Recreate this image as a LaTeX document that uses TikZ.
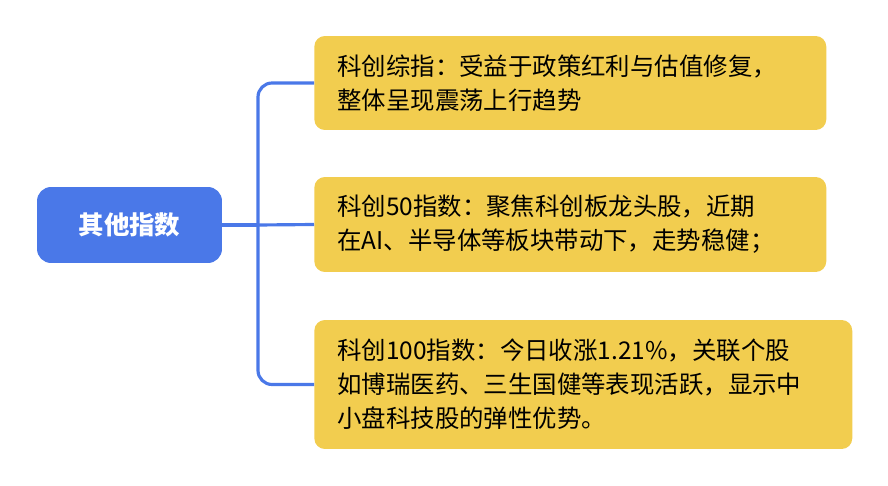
\documentclass[tikz,border=0pt]{standalone}
\usepackage{fontspec}
\setmainfont{Noto Sans CJK SC}
\usetikzlibrary{positioning}
\definecolor{rootblue}{HTML}{4A78E8}
\definecolor{leafyellow}{HTML}{F2CD4F}
\tikzset{
  rootbox/.style={fill=rootblue, rounded corners=8pt, text=white, font=\fontsize{14.5}{17}\selectfont\bfseries, minimum width=3.7cm, minimum height=1.52cm},
  leafbox/.style={fill=leafyellow, rounded corners=6pt, anchor=west, align=left, inner xsep=0.46cm, font=\fontsize{13.9}{19.3}\selectfont},
  branch/.style={draw=rootblue, line width=1.8pt, rounded corners=8pt}
}
\begin{document}
\begin{tikzpicture}[x=0.02cm, y=-0.02cm]
  \useasboundingbox (0,0) rectangle (888,486);
  \node[rootbox] (root) at (129.5,225) {其他指数};
  \node[leafbox, minimum width=10.24cm, minimum height=1.88cm, text width=9.32cm] (l1) at (314,83) {科创综指：受益于政策红利与估值修复，\\整体呈现震荡上行趋势};
  \node[leafbox, minimum width=10.24cm, minimum height=1.9cm, text width=9.32cm] (l2) at (314,224.5) {科创50指数：聚焦科创板龙头股，近期\\在AI、半导体等板块带动下，走势稳健；};
  \node[leafbox, minimum width=10.76cm, minimum height=2.58cm, text width=9.84cm] (l3) at (314,384.5) {科创100指数：今日收涨1.21\%，关联个股\\如博瑞医药、三生国健等表现活跃，显示中\\小盘科技股的弹性优势。};
  \coordinate (fork) at (258,225);
  \draw[branch] (root.east) -- (fork);
  \draw[branch] (l1.west) -| (fork) |- (l3.west);
  \draw[branch] (fork) -- (l2.west);
\end{tikzpicture}
\end{document}
